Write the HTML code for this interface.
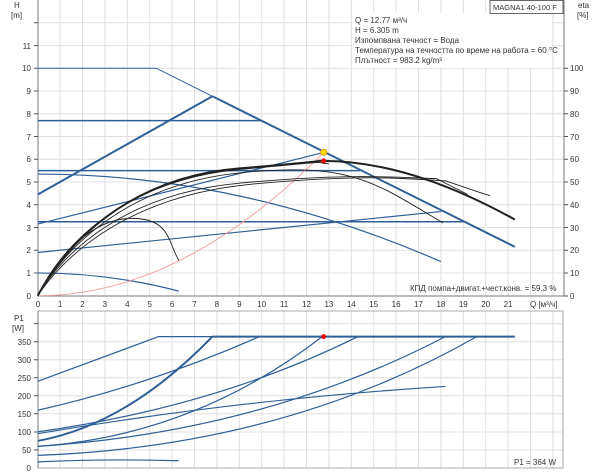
<!DOCTYPE html>
<html><head><meta charset="utf-8"><style>
html,body{margin:0;padding:0;background:#fff;}
svg{display:block;font-family:"Liberation Sans","Noto Sans CJK SC",sans-serif;}
.g line{stroke:#e0e0e0;stroke-width:1}
text{fill:#333;font-size:8px}
.c{fill:none;vector-effect:non-scaling-stroke;stroke-linejoin:round}
</style></head><body>
<svg width="600" height="474" viewBox="0 0 600 474" xmlns="http://www.w3.org/2000/svg">
<rect width="600" height="474" fill="#fff"/>
<g class="g">
<line x1="60.1" y1="0" x2="60.1" y2="296"/><line x1="82.5" y1="0" x2="82.5" y2="296"/><line x1="104.9" y1="0" x2="104.9" y2="296"/><line x1="127.3" y1="0" x2="127.3" y2="296"/><line x1="149.7" y1="0" x2="149.7" y2="296"/><line x1="172.1" y1="0" x2="172.1" y2="296"/><line x1="194.5" y1="0" x2="194.5" y2="296"/><line x1="216.9" y1="0" x2="216.9" y2="296"/><line x1="239.3" y1="0" x2="239.3" y2="296"/><line x1="261.7" y1="0" x2="261.7" y2="296"/><line x1="284.1" y1="0" x2="284.1" y2="296"/><line x1="306.5" y1="0" x2="306.5" y2="296"/><line x1="328.9" y1="0" x2="328.9" y2="296"/><line x1="351.3" y1="0" x2="351.3" y2="296"/><line x1="373.7" y1="0" x2="373.7" y2="296"/><line x1="396.1" y1="0" x2="396.1" y2="296"/><line x1="418.5" y1="0" x2="418.5" y2="296"/><line x1="440.9" y1="0" x2="440.9" y2="296"/><line x1="463.3" y1="0" x2="463.3" y2="296"/><line x1="485.7" y1="0" x2="485.7" y2="296"/><line x1="508.1" y1="0" x2="508.1" y2="296"/><line x1="530.5" y1="0" x2="530.5" y2="296"/><line x1="552.9" y1="0" x2="552.9" y2="296"/>
<line x1="38" y1="273" x2="564" y2="273"/><line x1="38" y1="250.2" x2="564" y2="250.2"/><line x1="38" y1="227.5" x2="564" y2="227.5"/><line x1="38" y1="204.7" x2="564" y2="204.7"/><line x1="38" y1="182" x2="564" y2="182"/><line x1="38" y1="159.3" x2="564" y2="159.3"/><line x1="38" y1="136.5" x2="564" y2="136.5"/><line x1="38" y1="113.8" x2="564" y2="113.8"/><line x1="38" y1="91" x2="564" y2="91"/><line x1="38" y1="68.3" x2="564" y2="68.3"/><line x1="38" y1="45.6" x2="564" y2="45.6"/><line x1="38" y1="22.8" x2="564" y2="22.8"/>
</g>
<g class="g">
<line x1="60.1" y1="311" x2="60.1" y2="468"/><line x1="82.5" y1="311" x2="82.5" y2="468"/><line x1="104.9" y1="311" x2="104.9" y2="468"/><line x1="127.3" y1="311" x2="127.3" y2="468"/><line x1="149.7" y1="311" x2="149.7" y2="468"/><line x1="172.1" y1="311" x2="172.1" y2="468"/><line x1="194.5" y1="311" x2="194.5" y2="468"/><line x1="216.9" y1="311" x2="216.9" y2="468"/><line x1="239.3" y1="311" x2="239.3" y2="468"/><line x1="261.7" y1="311" x2="261.7" y2="468"/><line x1="284.1" y1="311" x2="284.1" y2="468"/><line x1="306.5" y1="311" x2="306.5" y2="468"/><line x1="328.9" y1="311" x2="328.9" y2="468"/><line x1="351.3" y1="311" x2="351.3" y2="468"/><line x1="373.7" y1="311" x2="373.7" y2="468"/><line x1="396.1" y1="311" x2="396.1" y2="468"/><line x1="418.5" y1="311" x2="418.5" y2="468"/><line x1="440.9" y1="311" x2="440.9" y2="468"/><line x1="463.3" y1="311" x2="463.3" y2="468"/><line x1="485.7" y1="311" x2="485.7" y2="468"/><line x1="508.1" y1="311" x2="508.1" y2="468"/><line x1="530.5" y1="311" x2="530.5" y2="468"/><line x1="552.9" y1="311" x2="552.9" y2="468"/>
<line x1="38" y1="450" x2="563" y2="450"/><line x1="38" y1="432" x2="563" y2="432"/><line x1="38" y1="413.8" x2="563" y2="413.8"/><line x1="38" y1="395.8" x2="563" y2="395.8"/><line x1="38" y1="377.7" x2="563" y2="377.7"/><line x1="38" y1="359.7" x2="563" y2="359.7"/><line x1="38" y1="341.7" x2="563" y2="341.7"/><line x1="38" y1="323.6" x2="563" y2="323.6"/>
</g>
<g stroke="#777" stroke-width="1" fill="none">
<path d="M38,0 V296 H564 V0"/>
<path d="M38,311 V468 H563 V311 Z" stroke="#aaa"/>
<path d="M38,311 V468" stroke="#777"/>
</g>
<g stroke="#555" stroke-width="1">
<path d="M34,273H38M34,250.2H38M34,227.5H38M34,204.7H38M34,182H38M34,159.3H38M34,136.5H38M34,113.8H38M34,91H38M34,68.3H38M34,45.6H38M34,22.8H38"/>
<path d="M564,296H568M564,273H568M564,250.2H568M564,227.5H568M564,204.7H568M564,182H568M564,159.3H568M564,136.5H568M564,113.8H568M564,91H568M564,68.3H568"/>
<path d="M34,450H38M34,432H38M34,413.8H38M34,395.8H38M34,377.7H38M34,359.7H38M34,341.7H38M34,323.6H38"/>
</g>
<g text-anchor="end">
<text x="31" y="299">0</text><text x="31" y="276">1</text><text x="31" y="253">2</text><text x="31" y="231">3</text><text x="31" y="208">4</text><text x="31" y="185">5</text><text x="31" y="162">6</text><text x="31" y="140">7</text><text x="31" y="117">8</text><text x="31" y="94">9</text><text x="31" y="71">10</text><text x="31" y="49">11</text>
<text x="31" y="471">0</text><text x="31" y="453">50</text><text x="31" y="435">100</text><text x="31" y="417">150</text><text x="31" y="399">200</text><text x="31" y="381">250</text><text x="31" y="363">300</text><text x="31" y="345">350</text>
</g>
<text x="14" y="8">H</text><text x="11" y="18">[m]</text>
<text x="14" y="321">P1</text><text x="12" y="331">[W]</text>
<text x="578" y="8">eta</text><text x="577" y="18">[%]</text>
<g text-anchor="start">
<text x="570" y="299">0</text><text x="570" y="276">10</text><text x="570" y="253">20</text><text x="570" y="231">30</text><text x="570" y="208">40</text><text x="570" y="185">50</text><text x="570" y="162">60</text><text x="570" y="140">70</text><text x="570" y="117">80</text><text x="570" y="94">90</text><text x="570" y="71">100</text>
</g>
<g text-anchor="middle">
<text x="38" y="307">0</text><text x="60.1" y="307">1</text><text x="82.5" y="307">2</text><text x="104.9" y="307">3</text><text x="127.3" y="307">4</text><text x="149.7" y="307">5</text><text x="172.1" y="307">6</text><text x="194.5" y="307">7</text><text x="216.9" y="307">8</text><text x="239.3" y="307">9</text><text x="261.7" y="307">10</text><text x="284.1" y="307">11</text><text x="306.5" y="307">12</text><text x="328.9" y="307">13</text><text x="351.3" y="307">14</text><text x="373.7" y="307">15</text><text x="396.1" y="307">16</text><text x="418.5" y="307">17</text><text x="440.9" y="307">18</text><text x="463.3" y="307">19</text><text x="485.7" y="307">20</text><text x="508.1" y="307">21</text>
</g>
<text x="530" y="307">Q [м³/ч]</text>
<text x="410" y="291">КПД помпа+двигат.+чест.конв. = 59.3 %</text>
<text x="514" y="465">P1 = 364 W</text>
<rect x="352" y="13" width="200" height="55" fill="#fff"/>
<text x="355" y="23">Q = 12.77 м³/ч</text>
<text x="355" y="33">H = 6.305 m</text>
<text x="355" y="43">Изпомпвана течност = Вода</text>
<text x="355" y="53">Температура на течността по време на работа = 60 °C</text>
<text x="355" y="63">Плътност = 983.2 kg/m³</text>
<rect x="490" y="0.5" width="73" height="13" fill="#fff" stroke="#666"/>
<text x="493" y="10" style="font-size:7.5px">MAGNA1 40-100 F</text>
<g transform="translate(37.7,295.7) scale(22.4,-22.74)">
<g stroke="#2f5f97">
<path class="c" stroke-width="1" d="M0,10 L5.3,10 L7.8,8.77"/>
<path class="c" stroke-width="2" d="M7.8,8.77 L21.3,2.15"/>
<path class="c" stroke-width="2" d="M0,4.45 L7.8,8.77"/>
<path class="c" stroke-width="1.5" d="M0,7.7 L10,7.7"/>
<path class="c" stroke-width="1.5" d="M0,5.5 L14.4,5.5"/>
<path class="c" stroke-width="1.5" d="M0,3.25 L19.1,3.25"/>
<path class="c" stroke-width="1.2" d="M0,3.15 L12.77,6.3"/>
<path class="c" stroke-width="1.2" d="M0,1.9 L18,3.7"/>
<path class="c" stroke-width="1.2" d="M0,5.35 Q9,5.35 18,1.5"/>
<path class="c" stroke-width="1.2" d="M0,1.0 Q3.2,1.0 6.3,0.2"/>
</g>
<path class="c" stroke="#f4a0a0" stroke-width="1" d="M0,0 Q6.4,0 12.77,6.3"/>
<g stroke="#222">
<path class="c" stroke-width="0.9" d="M0,0 C1.2,2.0 4,4.5 9,4.95 S16,5.2 17.8,5.15 L19.2,4.45"/>
<path class="c" stroke-width="0.9" d="M0,0 C1.3,1.9 4.2,4.4 9.5,4.9 S17,5.1 18.2,5.05 L19.7,4.55 L20.2,4.4"/>
<path class="c" stroke-width="0.9" d="M0,0 C1.2,2.1 4,4.9 9,5.4 S15,5.0 18.1,3.2"/>
<path class="c" stroke-width="0.9" d="M0,0 C1.1,2.3 4,5.1 9,5.55 S12,5.85 13,5.8"/>
<path class="c" stroke-width="0.9" d="M0,0 C1.0,1.9 2.5,3.4 4.2,3.4 S5.8,2.4 6.3,1.55"/>
<path class="c" stroke-width="2" d="M0,0 C1.2,2.2 4,5.2 9,5.6 S12,5.93 12.8,5.93 C16,5.9 19,4.6 21.3,3.35"/>
</g>
</g>
<circle cx="323.7" cy="152.3" r="3" fill="#ffe000" stroke="#f0a000"/>
<circle cx="323.7" cy="160.9" r="2.5" fill="#e00"/>
<g transform="translate(37.7,468) scale(22.4,-0.361)" stroke="#2f5f97">
<path class="c" stroke-width="1.2" d="M0,240 L5.4,364 L7.8,364"/>
<path class="c" stroke-width="2" d="M7.8,364 L21.3,364"/>
<path class="c" stroke-width="2" d="M0,75 Q4,120 7.8,364"/>
<path class="c" stroke-width="1.2" d="M0,160 Q5,230 9.9,364"/>
<path class="c" stroke-width="1.2" d="M0,100 Q8,170 14.3,364"/>
<path class="c" stroke-width="1.2" d="M0,60 Q7,90 12.7,364"/>
<path class="c" stroke-width="1.2" d="M0,95 Q9,190 18.2,226"/>
<path class="c" stroke-width="1.2" d="M0,60 Q10,100 18.2,364"/>
<path class="c" stroke-width="1.2" d="M0,35 Q11,60 19.6,364"/>
<path class="c" stroke-width="1.2" d="M0,17 Q3,26 6.3,20"/>
</g>
<circle cx="323.7" cy="336.6" r="2.5" fill="#e00"/>
</svg>
</body></html>
